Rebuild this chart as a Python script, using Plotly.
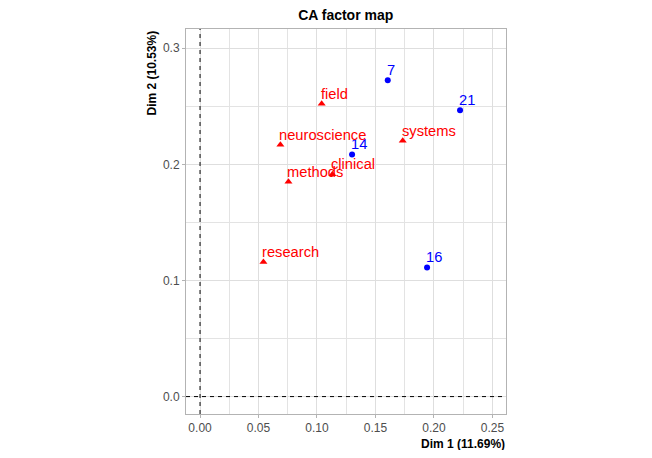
import plotly.graph_objects as go

# rows (blue points) and columns (red triangles) of the CA
row_names = ["7", "21", "14", "16"]
row_dim1 = [0.1605, 0.2223, 0.1300, 0.1941]
row_dim2 = [0.2724, 0.2466, 0.2086, 0.1112]

col_names = ["field", "neuroscience", "systems", "methods", "clinical", "research"]
col_dim1 = [0.1040, 0.0687, 0.1733, 0.0756, 0.1132, 0.0542]
col_dim2 = [0.2522, 0.2169, 0.2203, 0.1850, 0.1916, 0.1160]

x_ticks = [0.00, 0.05, 0.10, 0.15, 0.20, 0.25]
y_ticks = [0.0, 0.1, 0.2, 0.3]

font = "Liberation Sans, Arial, sans-serif"

fig = go.Figure()
fig.add_trace(go.Scatter(
    x=row_dim1, y=row_dim2, mode="markers",
    marker=dict(color="#0000FF", size=6, symbol="circle"),
))
fig.add_trace(go.Scatter(
    x=col_dim1, y=col_dim2, mode="markers",
    marker=dict(color="#FF0000", size=7, symbol="triangle-up"),
))

# labels sit just above-right of each point, like ggplot's text
labels = []
for names, xs, ys, colour in [(row_names, row_dim1, row_dim2, "#0000FF"),
                              (col_names, col_dim1, col_dim2, "#FF0000")]:
    for n, xv, yv in zip(names, xs, ys):
        labels.append(dict(
            text=n, x=xv, y=yv, xref="x", yref="y",
            xanchor="left", yanchor="bottom", xshift=-3, yshift=0,
            showarrow=False, font=dict(size=14.7, color=colour, family=font),
        ))

# dashed reference lines through the origin
fig.add_hline(y=0, line=dict(color="black", width=1, dash="4px,4px"))
fig.add_vline(x=0, line=dict(color="black", width=1, dash="4px,4px"))

axis_style = dict(
    showgrid=True, gridcolor="#DEDEDE", gridwidth=1,
    zeroline=False, showline=True, linecolor="#B3B3B3", linewidth=1, mirror=True,
    ticks="outside", ticklen=3, tickcolor="#B3B3B3",
    tickfont=dict(size=12, color="#4D4D4D", family=font),
)
fig.update_xaxes(range=[-0.012, 0.2616], tickvals=x_ticks,
                 ticktext=["%.2f" % v for v in x_ticks],
                 minor=dict(showgrid=True, gridcolor="#E3E3E3", ticks="",
                            tickvals=[0.025, 0.075, 0.125, 0.175, 0.225]),
                 **axis_style)
fig.update_yaxes(range=[-0.015, 0.3166], tickvals=y_ticks,
                 ticktext=["%.1f" % v for v in y_ticks],
                 minor=dict(showgrid=True, gridcolor="#E3E3E3", ticks="",
                            tickvals=[0.05, 0.15, 0.25]),
                 **axis_style)

# page body has an 8px margin, so the figure is sized to fit inside it
fig.update_layout(
    width=636, height=442,
    margin=dict(l=178, r=138, t=21, b=36),
    plot_bgcolor="white", paper_bgcolor="white",
    showlegend=False,
    font=dict(family=font),
    title=dict(text="<b>CA factor map</b>", x=0.531, xanchor="center",
               y=1 - 7.5 / 442, yanchor="middle",
               font=dict(size=14, color="black", family=font)),
    annotations=labels + [
        dict(text="<b>Dim 1 (11.69%)</b>", xref="paper", yref="paper",
             x=1, y=0, xanchor="right", yanchor="top", yshift=-22, borderpad=0,
             showarrow=False, font=dict(size=12, color="black", family=font)),
        dict(text="<b>Dim 2 (10.53%)</b>", xref="paper", yref="paper",
             x=0, y=1, xanchor="right", yanchor="top", xshift=-26,
             textangle=-90, showarrow=False,
             font=dict(size=12, color="black", family=font)),
    ],
)

fig.write_html("out.html")
